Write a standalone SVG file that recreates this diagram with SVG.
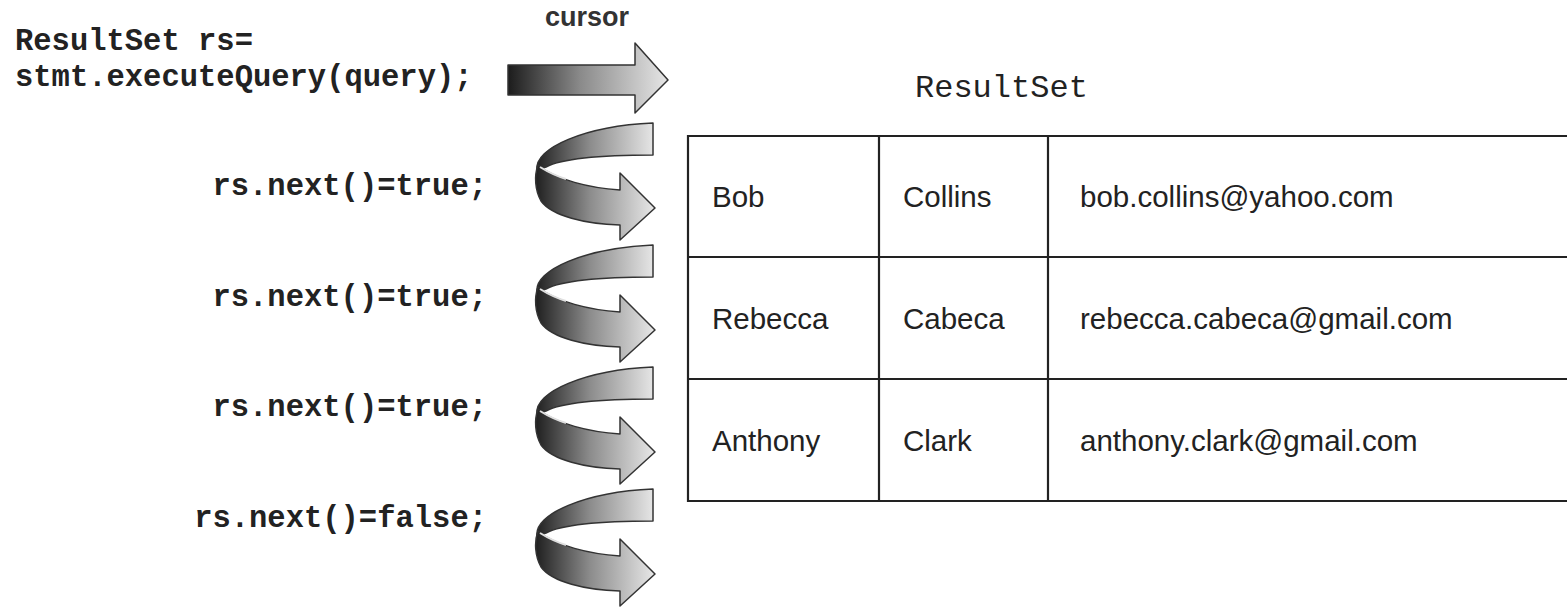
<svg xmlns="http://www.w3.org/2000/svg" xmlns:xlink="http://www.w3.org/1999/xlink" width="1567" height="607" viewBox="0 0 1567 607">
  <style>
    .code { font-family: "Liberation Mono", "Courier New", monospace; font-weight: bold; font-size: 30.5px; fill: #222; }
    .title { font-family: "Liberation Mono", "Courier New", monospace; font-size: 32px; fill: #222; }
    .cell { font-family: "Liberation Sans", Arial, sans-serif; font-size: 29.5px; fill: #222; }
    .cursor { font-family: "Liberation Sans", Arial, sans-serif; font-weight: bold; font-size: 27px; fill: #333; }
    .grid { stroke: #222; stroke-width: 2.2; fill: none; }
    .rib { stroke: #333; stroke-width: 1.5; stroke-linejoin: round; }
  </style>
  <defs>
    <linearGradient id="gTop" gradientUnits="userSpaceOnUse" x1="508" y1="0" x2="668" y2="0">
      <stop offset="0" stop-color="#1c1c1c"/>
      <stop offset="0.45" stop-color="#8a8a8a"/>
      <stop offset="1" stop-color="#e6e6e6"/>
    </linearGradient>
    <linearGradient id="gRib" gradientUnits="userSpaceOnUse" x1="537" y1="0" x2="655" y2="0">
      <stop offset="0" stop-color="#222"/>
      <stop offset="0.45" stop-color="#8c8c8c"/>
      <stop offset="1" stop-color="#e8e8e8"/>
    </linearGradient>
    <g id="spiral">
      <path class="rib" fill="url(#gRib)" d="M653,123 L653,155 C610,155 565,157 546,167 L537,170 C534,148 585,126 653,123 Z"/>
      <path class="rib" fill="url(#gRib)" d="M538,165 C556,180 590,188 620,190 L620,173 L655,208 L620,240 L620,225 C585,224 552,216 541,201 C535,190 534,176 538,165 Z"/>
      <path d="M540,167 C548,172 556,176 566,179" stroke="#e0e0e0" stroke-width="2" fill="none"/>
    </g>
  </defs>

  <g id="code-query">
    <text class="code" x="15" y="50" font-size="31">ResultSet rs=</text>
    <text class="code" x="15" y="86" font-size="31">stmt.executeQuery(query);</text>
  </g>
  <g id="label-cursor">
    <text class="cursor" x="545" y="26">cursor</text>
  </g>
  <g id="label-next1"><text class="code" x="487" y="195" text-anchor="end">rs.next()=true;</text></g>
  <g id="label-next2"><text class="code" x="487" y="306" text-anchor="end">rs.next()=true;</text></g>
  <g id="label-next3"><text class="code" x="487" y="416" text-anchor="end">rs.next()=true;</text></g>
  <g id="label-next4"><text class="code" x="487" y="527" text-anchor="end">rs.next()=false;</text></g>

  <g id="connectors">
    <path class="rib" fill="url(#gTop)" d="M508,65 L635,65 L635,43 L668,80 L635,113 L635,95 L508,95 Z"/>
    <use xlink:href="#spiral" href="#spiral"/>
    <use xlink:href="#spiral" href="#spiral" transform="translate(0,122)"/>
    <use xlink:href="#spiral" href="#spiral" transform="translate(0,244)"/>
    <use xlink:href="#spiral" href="#spiral" transform="translate(0,366)"/>
  </g>

  <g id="resultset-table">
    <text class="title" x="915" y="97">ResultSet</text>
    <line class="grid" x1="688" y1="136" x2="1567" y2="136"/>
    <line class="grid" x1="688" y1="257" x2="1567" y2="257"/>
    <line class="grid" x1="688" y1="379" x2="1567" y2="379"/>
    <line class="grid" x1="688" y1="501" x2="1567" y2="501"/>
    <line class="grid" x1="688" y1="135" x2="688" y2="502"/>
    <line class="grid" x1="879" y1="135" x2="879" y2="502"/>
    <line class="grid" x1="1048" y1="135" x2="1048" y2="502"/>
    <g id="row1">
      <text class="cell" x="712" y="207">Bob</text>
      <text class="cell" x="903" y="207">Collins</text>
      <text class="cell" x="1080" y="207">bob.collins@yahoo.com</text>
    </g>
    <g id="row2">
      <text class="cell" x="712" y="329">Rebecca</text>
      <text class="cell" x="903" y="329">Cabeca</text>
      <text class="cell" x="1080" y="329">rebecca.cabeca@gmail.com</text>
    </g>
    <g id="row3">
      <text class="cell" x="712" y="451">Anthony</text>
      <text class="cell" x="903" y="451">Clark</text>
      <text class="cell" x="1080" y="451">anthony.clark@gmail.com</text>
    </g>
  </g>
</svg>
